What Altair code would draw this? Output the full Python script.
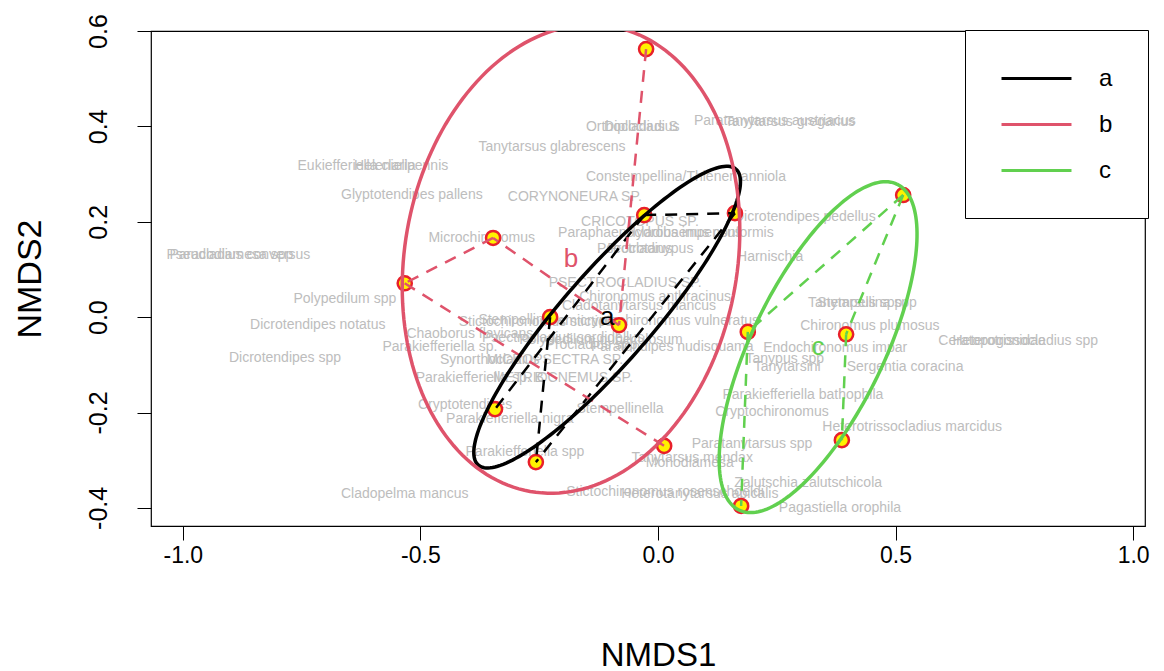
import numpy as np
import pandas as pd
import altair as alt

# ---- site scores (NMDS1, NMDS2) and their group ----
site_id = list(range(1, 16))
site_x = [-0.025, -0.029, 0.162, -0.347, -0.533, -0.227, -0.082, 0.189, 0.396, 0.516, -0.343, -0.257, 0.013, 0.387, 0.175]
site_y = [0.562, 0.214, 0.218, 0.166, 0.071, 0.000, -0.017, -0.031, -0.036, 0.256, -0.193, -0.304, -0.270, -0.258, -0.396]
site_grp = ["b", "a", "a", "b", "b", "a", "b", "c", "c", "c", "a", "a", "b", "c", "c"]

# ---- spanning-tree segments within groups (site ids) ----
seg_from = [2, 3, 2, 6, 1, 7, 4, 5, 10, 10, 9, 8]
seg_to = [3, 12, 11, 12, 7, 4, 5, 13, 8, 9, 14, 15]

# ---- ellipse parameters (centre, semi-axes, rotation in degrees) ----
groups = ["a", "b", "c"]
group_colors = ["#000000", "#DF536B", "#61D04F"]
ell_cx = [-0.107, -0.183, 0.337]
ell_cy = [0.000, 0.122, -0.063]
ell_a = [0.412, 0.495, 0.380]
ell_b = [0.095, 0.350, 0.139]
ell_rot = [48.8, 80.0, 64.0]

# ---- species scores (labels) ----
sp_name = [
    "Tanytarsus gregarius", "Paratanytarsus austriacus", "Orthocladius S", "Diplocladius",
    "Tanytarsus glabrescens", "Eukiefferiella claripennis", "Heleniella", "Glyptotendipes pallens",
    "CORYNONEURA SP.", "Constempellina/Thienemanniola", "CRICOTOPUS SP.", "Dicrotendipes pedellus",
    "Hydrobaenus conformis", "Paraphaenocladius impensus", "Procladius", "Psectrotanypus",
    "Harnischia", "Pseudodiamesa spp", "Paracladius conversus", "Microchironomus",
    "PSECTROCLADIUS SP.", "Chironomus anthracinus", "Tanytarsus spp", "Stempellina spp",
    "Chironomus plumosus", "Ceratopogonidae", "Heterotrissocladius spp", "Endochironomus impar",
    "Tanytarsini", "Sergentia coracina", "Tanypus spp", "Parakiefferiella bathophila",
    "Cryptochironomus", "Heterotrissocladius marcidus", "Paratanytarsus spp", "Tanytarsus mendax",
    "Monodiamesa", "Zalutschia zalutschicola", "Stictochironomus rosenschoeldi", "Heterotanytarsus apicalis",
    "Pagastiella orophila", "Cladopelma mancus", "Stempellinella", "Cryptotendipes",
    "Parakiefferiella nigra", "Parakiefferiella spp", "Polypedilum spp", "Dicrotendipes notatus",
    "Dicrotendipes spp", "Chaoborus flavicans", "Parakiefferiella sp.", "Synorthocladius",
    "MICROPSECTRA SP.", "Parakiefferiella sp. B", "METRIOCNEMUS SP.", "Stempellina",
    "Cladotanytarsus mancus", "Demicryptochironomus vulneratus", "Stictochironomus sticticus",
    "Polypedilum nubeculosum", "Paratendipes nudisquama", "Psectrocladius sordidellus", "Procladius spp",
]
sp_x = [
    0.278, 0.246, -0.055, -0.034,
    -0.223, -0.600, -0.575, -0.518,
    -0.175, 0.059, -0.038, 0.309,
    0.088, -0.017, -0.038, -0.027,
    0.236, -0.901, -0.880, -0.371,
    -0.069, -0.006, 0.415, 0.440,
    0.446, 0.703, 0.773, 0.373,
    0.272, 0.520, 0.267, 0.305,
    0.240, 0.535, 0.198, 0.072,
    0.067, 0.316, 0.015, 0.088,
    0.383, -0.533, -0.080, -0.406,
    -0.312, -0.280, -0.659, -0.716,
    -0.785, -0.396, -0.459, -0.354,
    -0.217, -0.375, -0.200, -0.301,
    -0.040, -0.010, -0.250,
    -0.120, 0.030, -0.200, -0.140,
]
sp_y = [
    0.409, 0.411, 0.398, 0.398,
    0.356, 0.317, 0.317, 0.256,
    0.252, 0.294, 0.199, 0.210,
    0.176, 0.176, 0.143, 0.143,
    0.126, 0.130, 0.130, 0.166,
    0.071, 0.042, 0.029, 0.029,
    -0.019, -0.050, -0.050, -0.065,
    -0.105, -0.105, -0.088, -0.164,
    -0.199, -0.231, -0.266, -0.296,
    -0.306, -0.348, -0.367, -0.371,
    -0.400, -0.371, -0.193, -0.184,
    -0.214, -0.283, 0.038, -0.017,
    -0.086, -0.036, -0.063, -0.090,
    -0.090, -0.128, -0.128, -0.006,
    0.023, -0.008, -0.010,
    -0.048, -0.063, -0.044, -0.059,
]

# ---- axis ticks ----
x_ticks = [-1.0, -0.5, 0.0, 0.5, 1.0]
y_ticks = [-0.4, -0.2, 0.0, 0.2, 0.4, 0.6]

FONT = "Liberation Sans"
XDOM = [-1.067, 1.025]
YDOM = [-0.438, 0.6]
HYPHEN = "replace(format(datum.value, '.1f'), '\u2212', '-')"

sites = pd.DataFrame({"id": site_id, "x": site_x, "y": site_y, "group": site_grp})
lookup = sites.set_index("id")
segs = pd.DataFrame({
    "x": [lookup.loc[i, "x"] for i in seg_from],
    "y": [lookup.loc[i, "y"] for i in seg_from],
    "x2": [lookup.loc[i, "x"] for i in seg_to],
    "y2": [lookup.loc[i, "y"] for i in seg_to],
    "group": [lookup.loc[i, "group"] for i in seg_from],
})

rows = []
t = np.linspace(0, 2 * np.pi, 181)
for g, cx, cy, a, b, r in zip(groups, ell_cx, ell_cy, ell_a, ell_b, ell_rot):
    ph = np.deg2rad(r)
    ex = cx + a * np.cos(t) * np.cos(ph) - b * np.sin(t) * np.sin(ph)
    ey = cy + a * np.cos(t) * np.sin(ph) + b * np.sin(t) * np.cos(ph)
    for i, (xx, yy) in enumerate(zip(ex, ey)):
        rows.append({"group": g, "i": i, "x": xx, "y": yy})
ell = pd.DataFrame(rows)
centres = pd.DataFrame({"group": groups, "x": ell_cx, "y": ell_cy})
species = pd.DataFrame({"name": sp_name, "x": sp_x, "y": sp_y})

xs = alt.Scale(domain=XDOM, nice=False, zero=False)
ys = alt.Scale(domain=YDOM, nice=False, zero=False)
cs = alt.Scale(domain=groups, range=group_colors)

xaxis = alt.Axis(values=x_ticks, labelExpr=HYPHEN, domain=False, grid=False, ticks=True,
                 tickSize=14, tickColor="black", tickWidth=1, labelFontSize=23,
                 labelFont=FONT, labelColor="black", labelPadding=4, title="NMDS1",
                 titleFont=FONT, titleFontSize=33, titleFontWeight="normal",
                 titleColor="black", titlePadding=72, titleX=507)
yaxis = alt.Axis(values=y_ticks, labelExpr=HYPHEN, domain=False, grid=False, ticks=True,
                 tickSize=14, tickColor="black", tickWidth=1, labelFontSize=25,
                 labelFont=FONT, labelColor="black", labelAngle=270, labelAlign="center",
                 labelBaseline="alphabetic", labelPadding=31, title="NMDS2",
                 titleFont=FONT, titleFontSize=34, titleFontWeight="normal",
                 titleColor="black", titlePadding=39)

base_x = alt.X("x:Q", scale=xs, axis=xaxis)
base_y = alt.Y("y:Q", scale=ys, axis=yaxis)

legend = alt.Legend(title=None, orient="none", legendX=814, legendY=-1,
                    symbolType="M-3,0H3", symbolSize=544, symbolStrokeWidth=3,
                    symbolOffset=23, labelFontSize=24, labelFont=FONT, labelColor="black",
                    labelOffset=49, padding=35, rowPadding=20,
                    strokeColor="black", fillColor="white")

text_layer = alt.Chart(species).mark_text(
    fontSize=14, font=FONT, color="#bdbdbd", align="center", baseline="middle", clip=True
).encode(x=base_x, y=base_y, text="name:N")

points = alt.Chart(sites).mark_point(
    shape="circle", filled=True, fill="#FFF200", stroke="#E8202A", strokeWidth=2.5,
    size=200, opacity=1
).encode(x=base_x, y=base_y)

seg_layer = alt.Chart(segs).mark_rule(strokeWidth=2.5, strokeDash=[12, 9]).encode(
    x=base_x, y=base_y, x2="x2:Q", y2="y2:Q",
    color=alt.Color("group:N", scale=cs, legend=legend),
)

ell_layer = alt.Chart(ell).mark_line(strokeWidth=3.5, clip=True).encode(
    x=base_x, y=base_y, order="i:Q", detail="group:N",
    color=alt.Color("group:N", scale=cs, legend=legend),
)

lab_layer = alt.Chart(centres).mark_text(fontSize=26, font=FONT, baseline="middle").encode(
    x=base_x, y=base_y, text="group:N",
    color=alt.Color("group:N", scale=cs, legend=legend),
)

chart = alt.layer(text_layer, points, seg_layer, ell_layer, lab_layer).properties(
    width=994, height=495,
    autosize=alt.AutoSizeParams(type="none"),
    padding={"left": 151, "top": 31, "right": 19, "bottom": 145},
    background="white",
).configure_view(stroke="black", strokeWidth=1.2).configure_axis(labelFlush=False)

chart.save("out.html", embed_options={"renderer": "svg", "actions": False})
